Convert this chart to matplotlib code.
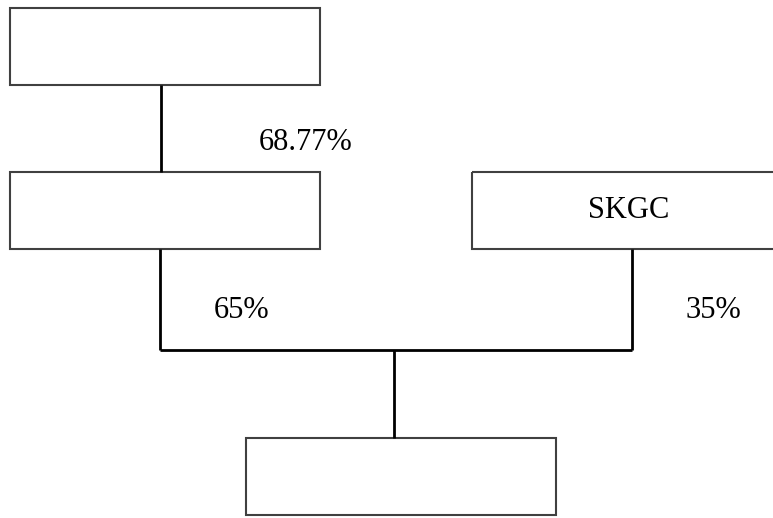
import matplotlib
matplotlib.use("Agg")
import matplotlib.pyplot as plt
from matplotlib.patches import Rectangle

# boxes: (label, left, top, right, bottom) in pixel space
box_labels = ["", "", "SKGC", ""]
box_left = [10, 10, 472, 246]
box_top = [8, 172, 172, 438]
box_right = [320, 320, 785, 556]
box_bottom = [85, 249, 249, 515]

# connector lines: x0, y0, x1, y1
link_x0 = [161, 160, 632, 160, 394]
link_y0 = [85, 249, 249, 350, 350]
link_x1 = [161, 160, 632, 632, 394]
link_y1 = [172, 350, 350, 350, 438]

# ownership labels
pct_labels = ["68.77%", "65%", "35%"]
pct_x = [306, 242, 713]
pct_y = [142, 311, 311]


def initFigure():
    fig = plt.figure(figsize=(7.73, 5.18), dpi=100)
    ax = fig.add_axes([0, 0, 1, 1])
    ax.set_xlim(0, 773)
    ax.set_ylim(518, 0)
    ax.axis('off')
    fig.patch.set_facecolor('white')
    return ax, fig


if __name__ == "__main__":
    ax, fig = initFigure()
    font = dict(family=['Liberation Serif', 'DejaVu Serif'], fontsize=22, color='black')

    for label, l, t, r, b in zip(box_labels, box_left, box_top, box_right, box_bottom):
        ax.add_patch(Rectangle((l, t), r - l, b - t, fill=False,
                               edgecolor='#404040', linewidth=1.5))
        if label:
            ax.text((l + r) / 2, (t + b) / 2, label, ha='center', va='center', **font)

    for x0, y0, x1, y1 in zip(link_x0, link_y0, link_x1, link_y1):
        ax.plot([x0, x1], [y0, y1], color='black', linewidth=2, solid_capstyle='butt')

    for s, x, y in zip(pct_labels, pct_x, pct_y):
        ax.text(x, y, s, ha='center', va='center', **font)

    fig.savefig('out.png', dpi=100)
